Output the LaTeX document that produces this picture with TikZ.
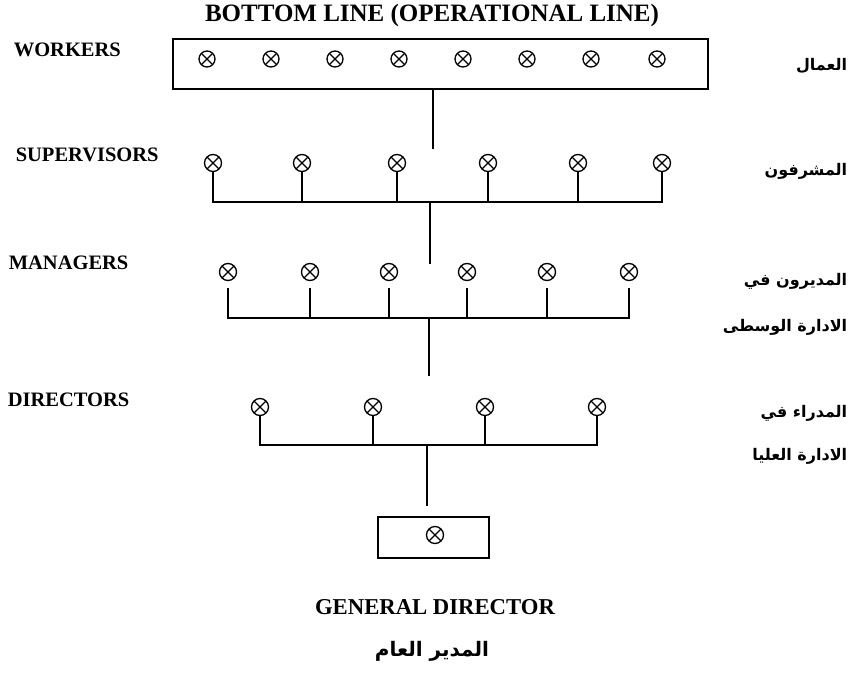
\documentclass[tikz,border=0pt]{standalone}
\usepackage{fontspec}
\setmainfont{Liberation Serif}
\newfontfamily\arabicfont[Script=Arabic]{DejaVu Sans}
\TeXXeTstate=1
\begin{document}
\begin{tikzpicture}[x=1pt,y=-1pt,line width=1.6pt,line cap=rect,
  lamp/.style={circle,draw,line width=1.3pt,minimum size=17pt,inner sep=0pt,
    path picture={\draw[line width=1.1pt]
      (path picture bounding box.north west) -- (path picture bounding box.south east)
      (path picture bounding box.north east) -- (path picture bounding box.south west);}},
  level/.style={anchor=west,inner sep=0pt,font=\bfseries\fontsize{20.5}{24}\selectfont},
  arlabel/.style={anchor=east,inner sep=0pt,font=\arabicfont\bfseries\fontsize{16}{20}\selectfont},
  unitbox/.style={draw,line width=1.4pt,inner sep=0pt}]
\useasboundingbox (0,0) rectangle (852,675);

% heading
\node[font=\bfseries\fontsize{25}{30}\selectfont] (title) at (432,15) {BOTTOM LINE (OPERATIONAL LINE)};

% workers row
\node[unitbox,minimum width=535pt,minimum height=50pt] (wbox) at (440.5,64) {};
\foreach \x [count=\i] in {207,271,335,399,463,527,591,657}
  \node[lamp,minimum size=16pt] (w\i) at (\x,59) {};
\coordinate (wv) at (433,148);
\draw (wbox.south -| wv) -- (wv);

% supervisors row
\foreach \x [count=\i] in {213,302,397,488,578,662} {
  \node[lamp] (s\i) at (\x,163) {};
  \coordinate (sb\i) at (\x,202);
  \draw (s\i) -- (sb\i);
}
\draw (sb1) -- (sb6);
\coordinate (sj) at (430,202);
\coordinate (sv) at (430,263);
\draw (sj) -- (sv);

% managers row
\foreach \x [count=\i] in {228,310,389,467,547,629} {
  \node[lamp] (m\i) at (\x,272) {};
  \coordinate (mb\i) at (\x,318);
  \draw[shorten <=8pt] (m\i) -- (mb\i);
}
\draw (mb1) -- (mb6);
\coordinate (mj) at (429,318);
\coordinate (mv) at (429,375);
\draw (mj) -- (mv);

% directors row
\foreach \x [count=\i] in {260,373,485,597} {
  \node[lamp] (d\i) at (\x,407) {};
  \coordinate (db\i) at (\x,445);
  \draw (d\i) -- (db\i);
}
\draw (db1) -- (db4);
\coordinate (dj) at (427,445);
\coordinate (dv) at (427,505);
\draw (dj) -- (dv);

% general director
\node[unitbox,minimum width=111pt,minimum height=41pt] (gbox) at (433.5,537.5) {};
\node[lamp] (g) at (435,535) {};

% level names
\node[level] (lw) at (13,50) {WORKERS};
\node[level] (ls) at (15,155) {SUPERVISORS};
\node[level] (lm) at (8,263) {MANAGERS};
\node[level] (ld) at (7,400) {DIRECTORS};
\node[font=\bfseries\fontsize{22.7}{26}\selectfont] (lg) at (435,607) {GENERAL DIRECTOR};

\node[arlabel] (aw) at (848,66) {\beginR العمال\endR};
\node[arlabel] (as) at (848,171) {\beginR المشرفون\endR};
\node[arlabel] (am1) at (848,281) {\beginR المديرون في\endR};
\node[arlabel] (am2) at (848,327) {\beginR الادارة الوسطى\endR};
\node[arlabel] (ad1) at (848,413) {\beginR المدراء في\endR};
\node[arlabel] (ad2) at (848,456) {\beginR الادارة العليا\endR};
\node[font=\arabicfont\bfseries\fontsize{20}{24}\selectfont] (ag) at (432,651) {\beginR المدير العام\endR};
\end{tikzpicture}
\end{document}
